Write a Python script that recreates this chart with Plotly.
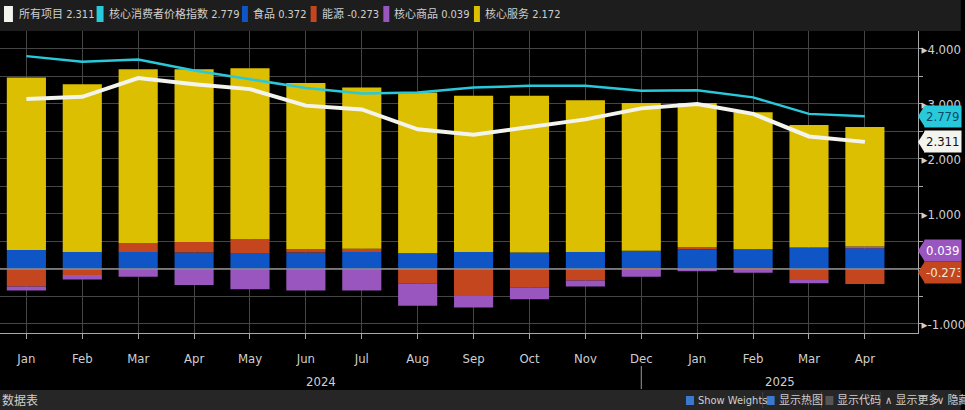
import plotly.graph_objects as go

# ---------------- data ----------------
months = ["Jan", "Feb", "Mar", "Apr", "May", "Jun", "Jul", "Aug", "Sep", "Oct", "Nov", "Dec",
          "Jan", "Feb", "Mar", "Apr"]
years = ["2024", "2025"]
headline = [3.09, 3.13, 3.47, 3.36, 3.27, 2.97, 2.90, 2.54, 2.44, 2.58, 2.72, 2.92, 3.00, 2.82, 2.41, 2.311]
core = [3.87, 3.77, 3.81, 3.61, 3.45, 3.29, 3.19, 3.21, 3.30, 3.33, 3.33, 3.24, 3.25, 3.12, 2.82, 2.779]
food = [0.345, 0.31, 0.31, 0.30, 0.29, 0.30, 0.31, 0.285, 0.31, 0.30, 0.31, 0.33, 0.36, 0.36, 0.39, 0.372]
energy = [-0.32, -0.11, 0.157, 0.19, 0.25, 0.06, 0.06, -0.27, -0.49, -0.34, -0.21, -0.02, 0.04, -0.02, -0.20, -0.273]
goods = [-0.07, -0.08, -0.14, -0.29, -0.37, -0.39, -0.39, -0.40, -0.21, -0.21, -0.11, -0.12, -0.04, -0.05, -0.06, 0.039]
services = [3.135, 3.05, 3.163, 3.14, 3.11, 3.02, 2.93, 2.925, 2.84, 2.85, 2.76, 2.69, 2.62, 2.49, 2.23, 2.172]
ytick_vals = [-1, 0, 1, 2, 3, 4]

# ---------------- style ----------------
W, H = 965, 410
L, R, T, B = 0, 43, 31, 77
PW, PH = W - L - R, H - T - B
FONT = "Liberation Sans Narrow, DejaVu Sans Condensed, Noto Sans CJK SC, sans-serif"
TXT = "#cfcfcf"
WHITE, CYAN = "#f4f4ee", "#29c9dc"
BLUE, RED, PURPLE, YELLOW = "#0f55c6", "#c3461f", "#9a56bf", "#dcbf00"
GRID = "#454545"


def pxx(xp):
    return (xp - L) / PW


def pxy(yp):
    return (H - B - yp) / PH


x = list(range(len(months)))

fig = go.Figure()
for name, vals, col in [("食品", food, BLUE), ("能源", energy, RED),
                        ("核心商品", goods, PURPLE), ("核心服务", services, YELLOW)]:
    fig.add_bar(x=x, y=vals, name=name, marker=dict(color=col, line=dict(width=0)))
fig.add_scatter(x=x, y=core, mode="lines", name="核心消费者价格指数",
                line=dict(color=CYAN, width=2.5))
fig.add_scatter(x=x, y=headline, mode="lines", name="所有项目",
                line=dict(color=WHITE, width=4))

shapes = []
annotations = []

# top & bottom strips
shapes.append(dict(type="rect", xref="paper", yref="paper", x0=pxx(0), x1=pxx(W),
                   y0=pxy(T), y1=pxy(0), fillcolor="#1d1d1d", line_width=0, layer="below"))
shapes.append(dict(type="rect", xref="paper", yref="paper", x0=pxx(0), x1=pxx(W),
                   y0=pxy(410), y1=pxy(390), fillcolor="#262626", line_width=0, layer="below"))

# zero line over bars
shapes.append(dict(type="line", xref="paper", yref="y", x0=0, x1=1, y0=0, y1=0,
                   line=dict(color="#8e8e8e", width=1.5), layer="above"))

# legend (top strip)
legend_items = [
    (WHITE, f"所有项目 {headline[-1]:.3f}", 4, 13, 17),
    (CYAN, f"核心消费者价格指数 {core[-1]:.3f}", 97, 104, 107),
    (BLUE, f"食品 {food[-1]:.3f}", 243, 249, 252),
    (RED, f"能源 {energy[-1]:.3f}", 312, 318, 321),
    (PURPLE, f"核心商品 {goods[-1]:.3f}", 385, 391, 394),
    (YELLOW, f"核心服务 {services[-1]:.3f}", 476, 482, 485),
]
for col, text, x0, x1, tx in legend_items:
    shapes.append(dict(type="rect", xref="paper", yref="paper", x0=pxx(x0), x1=pxx(x1),
                       y0=pxy(22), y1=pxy(6), fillcolor=col, line_width=0))
    annotations.append(dict(xref="paper", yref="paper", x=pxx(tx), y=pxy(14), text=text,
                            xanchor="left", yanchor="middle", showarrow=False,
                            font=dict(family=FONT, size=11, color=TXT)))

# value boxes on right axis
boxes = [
    (core[-1], f"{core[-1]:.3f}", CYAN, "#0b4a66"),
    (headline[-1], f"{headline[-1]:.3f}", WHITE, "#111111"),
    (0.33, f"{goods[-1]:.3f}", PURPLE, "#ffffff"),
    (-0.06, f"{energy[-1]:.3f}", RED, "#f2e6dc"),
]
for yv, text, bg, fc in boxes:
    shapes.append(dict(type="path", xref="paper", yref="y",
                       path=f"M {pxx(922)},{yv} L {pxx(929)},{yv + 0.2} L {pxx(929)},{yv - 0.2} Z",
                       fillcolor=bg, line_width=0, layer="above"))
    annotations.append(dict(xref="paper", yref="y", x=pxx(928), y=yv, text=text,
                            xanchor="left", yanchor="middle", showarrow=False, bgcolor=bg,
                            width=34, height=19, align="left", borderpad=1,
                            font=dict(family=FONT, size=13, color=fc)))

# year labels and separator
annotations.append(dict(xref="x", yref="paper", x=(-0.472 + 11) / 2, y=pxy(381), text=years[0],
                        yanchor="middle", showarrow=False, font=dict(family=FONT, size=13, color=TXT)))
annotations.append(dict(xref="x", yref="paper", x=(11 + 15.95) / 2, y=pxy(381), text=years[1],
                        yanchor="middle", showarrow=False, font=dict(family=FONT, size=13, color=TXT)))
shapes.append(dict(type="line", xref="x", yref="paper", x0=11, x1=11, y0=pxy(366), y1=pxy(389),
                   line=dict(color="#9a9a9a", width=1)))

# bottom strip UI
annotations.append(dict(xref="paper", yref="paper", x=pxx(0), y=pxy(400), text="数据表",
                        xanchor="left", yanchor="middle", showarrow=False,
                        font=dict(family=FONT, size=12, color=TXT)))
for bx, fill in [(689, "#3b78d0"), (770, "#3b78d0"), (829, "#555555")]:
    shapes.append(dict(type="rect", xref="paper", yref="paper", x0=pxx(bx), x1=pxx(bx + 8),
                       y0=pxy(405), y1=pxy(396), fillcolor=fill, line_width=0))
for sx in [766, 825, 884, 937]:
    shapes.append(dict(type="line", xref="paper", yref="paper", x0=pxx(sx), x1=pxx(sx),
                       y0=pxy(408), y1=pxy(392), line=dict(color="#444444", width=1)))
for tx, text in [(699, "Show Weights"), (780, "显示热图"), (839, "显示代码"),
                 (887, "∧ 显示更多"), (939, "∨ 隐藏")]:
    annotations.append(dict(xref="paper", yref="paper", x=pxx(tx), y=pxy(400), text=text,
                            xanchor="left", yanchor="middle", showarrow=False,
                            font=dict(family=FONT, size=11, color=TXT)))

fig.update_layout(
    width=W, height=H, margin=dict(l=L, r=R, t=T, b=B),
    paper_bgcolor="#000000", plot_bgcolor="#000000",
    barmode="relative", bargap=0.3, showlegend=False,
    font=dict(family=FONT, color=TXT),
    shapes=shapes, annotations=annotations,
    xaxis=dict(range=[-0.472, 15.95], tickmode="array", tickvals=x, ticktext=months,
               showgrid=True, gridcolor=GRID, gridwidth=1, zeroline=False,
               showline=True, linecolor="#a8a8a8", linewidth=1,
               ticks="outside", ticklen=5, tickcolor="#a8a8a8",
               ticklabelstandoff=8, tickfont=dict(family=FONT, size=13, color=TXT)),
    yaxis=dict(side="right", range=[-1.164, 4.327], tickmode="array", tickvals=ytick_vals,
               ticktext=["▸" + f"{v:.3f}" for v in ytick_vals], ticks="",
               showgrid=True, gridcolor=GRID, gridwidth=1, zeroline=False,
               showline=True, linecolor="#a8a8a8", linewidth=1,
               ticklabelstandoff=0, tickfont=dict(family=FONT, size=13, color=TXT),
               minor=dict(dtick=0.5, tick0=0, showgrid=True, gridcolor=GRID,
                          ticks="outside", ticklen=4, tickcolor="#a8a8a8")),
)

fig.write_html("out.html")
